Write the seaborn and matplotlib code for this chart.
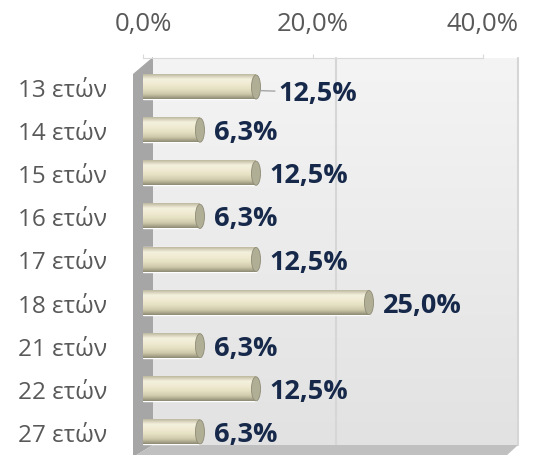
import numpy as np
import pandas as pd
import seaborn as sns
import matplotlib.pyplot as plt
from matplotlib.colors import LinearSegmentedColormap
from matplotlib.patches import Ellipse, Polygon
from matplotlib.ticker import FuncFormatter

ages = ['13 ετών', '14 ετών', '15 ετών', '16 ετών', '17 ετών',
        '18 ετών', '21 ετών', '22 ετών', '27 ετών']
shares = [12.5, 6.3, 12.5, 6.3, 12.5, 25.0, 6.3, 12.5, 6.3]
ticks = [0, 20, 40]

df = pd.DataFrame({'age': ages, 'share': shares})

sns.set_style('white')
plt.rcParams['font.family'] = ['Open Sans', 'DejaVu Sans']

W, H = 560, 456
fig = plt.figure(figsize=(W / 100, H / 100), dpi=100)


def box(x0, x1, ytop, ybot):
    # pixel box -> figure fraction
    return [x0 / W, 1 - ybot / H, (x1 - x0) / W, (ybot - ytop) / H]


def pts(coords):
    return [(x / W, 1 - y / H) for x, y in coords]


def pct(v, pos=None):
    return f'{v:.1f}%'.replace('.', ',')


# back wall with gradient
ax_bg = fig.add_axes(box(153, 518, 59, 446), zorder=-2)
grad = np.linspace(0, 1, 200).reshape(-1, 1)
wall_cmap = LinearSegmentedColormap.from_list('wall', ['#f4f4f4', '#e2e2e2'])
ax_bg.imshow(grad, extent=(0, 40, 0, 1), aspect='auto', cmap=wall_cmap, origin='upper')
ax_bg.set_xlim(0, 40)
ax_bg.set_ylim(0, 1)
for t in ticks[1:]:
    ax_bg.axvline(t, color='#d6d6d6', lw=1.5, clip_on=False)
ax_bg.axis('off')

# side wall and floor
fig.add_artist(Polygon(pts([(133, 75), (153, 58), (153, 446), (133, 458)]),
                       closed=True, transform=fig.transFigure,
                       facecolor='#a6a6a6', edgecolor='none', zorder=-1))
fig.add_artist(Polygon(pts([(133, 458), (153, 446), (518, 446), (505, 458)]),
                       closed=True, transform=fig.transFigure,
                       facecolor='#c0c0c0', edgecolor='none', zorder=-1))

# front axis with the percent ticks on top
ax_front = fig.add_axes(box(143, 483, 59, 446), zorder=1)
ax_front.patch.set_alpha(0)
ax_front.set_xlim(0, 40)
ax_front.set_xticks(ticks)
ax_front.xaxis.set_major_formatter(FuncFormatter(pct))
ax_front.xaxis.tick_top()
ax_front.tick_params(axis='x', length=3, color='#d9d9d9', pad=13,
                     labelsize=18.5, labelcolor='#595959')
ax_front.set_yticks([])
for s in ['left', 'right', 'bottom']:
    ax_front.spines[s].set_visible(False)
ax_front.spines['top'].set_color('#d9d9d9')

# bars
ax = fig.add_axes(box(143, 143 + 361.6, 59, 456), zorder=2)
ax.patch.set_alpha(0)
sns.barplot(data=df, x='share', y='age', orient='h', color='#ebe7cf',
            width=0.56, saturation=1, ax=ax)
bars = list(ax.patches)

bar_cmap = LinearSegmentedColormap.from_list(
    'cyl', ['#bdb9a0', '#f3f0dc', '#efebd2', '#e5e0c2', '#cec9aa', '#8d8a74'])
cap_w = 1.0
for i, (p, v) in enumerate(zip(bars, shares)):
    x0, y0, w, h = p.get_x(), p.get_y(), p.get_width(), p.get_height()
    yc = y0 + h / 2
    p.set_zorder(2)
    ax.imshow(grad, extent=(x0, x0 + w, y0 + h, y0), aspect='auto',
              cmap=bar_cmap, origin='upper', clip_path=p, zorder=2.5)
    ax.add_patch(Ellipse((x0, yc), cap_w, h, facecolor='#e4dfc3',
                         edgecolor='none', zorder=1.5))
    ax.add_patch(Ellipse((x0 + w, yc), cap_w, h, facecolor='#b1ae96',
                         edgecolor='#8e8b76', lw=0.6, zorder=3))
    if i == 0:
        ax.annotate(pct(v), xy=(v, yc + 0.08), xytext=(16, -1.5),
                    textcoords='offset points', ha='left', va='center',
                    fontsize=19.5, fontweight='bold', color='#17294a',
                    arrowprops=dict(arrowstyle='-', color='#a6a6a6', lw=1,
                                    shrinkA=0, shrinkB=3), zorder=4)
    else:
        ax.annotate(pct(v), xy=(v, yc), xytext=(10, -1.5),
                    textcoords='offset points', ha='left', va='center',
                    fontsize=19.5, fontweight='bold', color='#17294a', zorder=4)

ax.set_xlim(0, 40)
ax.set_ylim(8.534, -0.673)
ax.set_xticks([])
ax.set_xlabel('')
ax.set_ylabel('')
ax.tick_params(axis='y', length=0, pad=26, labelsize=17.5, labelcolor='#595959')
sns.despine(ax=ax, left=True, bottom=True)

fig.savefig('out.png', dpi=100)
